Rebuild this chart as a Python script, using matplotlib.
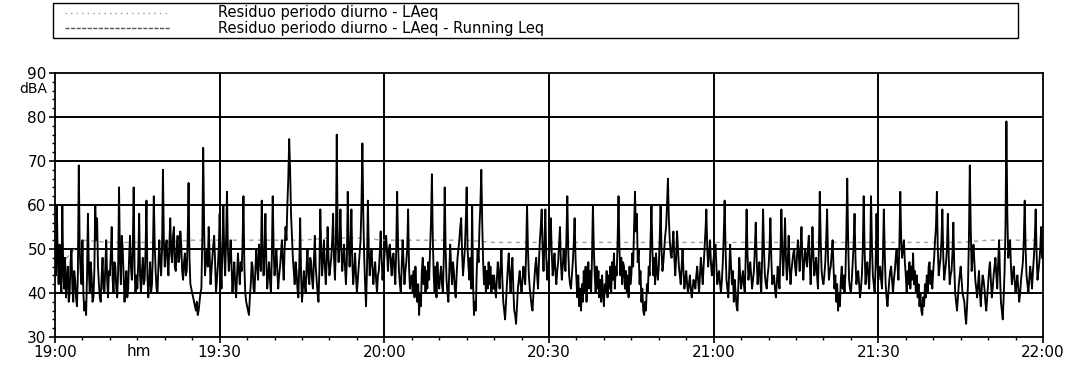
import numpy as np
import matplotlib
matplotlib.use("Agg")
import matplotlib.pyplot as plt
from matplotlib.lines import Line2D
from matplotlib.patches import Rectangle

# LAeq, one value every 10 s, one row per 5 minutes (19:00 -> 22:00)
laeq_rows = [
    [47, 44, 60, 48, 42, 51, 44, 40, 60, 45, 41, 48, 39, 43, 46, 38, 40, 47, 50, 41, 38, 45, 43, 39, 37, 44, 69, 50, 45, 42],
    [52, 40, 36, 38, 35, 44, 58, 45, 40, 47, 44, 38, 39, 45, 60, 52, 57, 46, 42, 39, 38, 44, 48, 41, 40, 46, 52, 43, 39, 45],
    [44, 49, 55, 43, 40, 47, 46, 41, 39, 45, 64, 48, 42, 53, 50, 44, 38, 42, 45, 39, 41, 48, 53, 46, 43, 50, 64, 45, 40, 44],
    [41, 47, 58, 44, 40, 45, 48, 42, 43, 50, 61, 44, 39, 43, 47, 40, 42, 49, 62, 51, 45, 41, 40, 46, 52, 47, 44, 50, 68, 52],
    [46, 50, 52, 47, 44, 51, 57, 49, 47, 53, 55, 46, 45, 50, 53, 47, 48, 54, 51, 45, 43, 47, 49, 44, 45, 52, 65, 48, 42, 41],
    [40, 39, 38, 37, 36, 38, 35, 36, 38, 40, 41, 52, 73, 55, 44, 48, 50, 46, 55, 49, 42, 45, 48, 51, 53, 47, 40, 43, 46, 50],
    [58, 47, 41, 50, 60, 49, 44, 52, 63, 50, 45, 48, 52, 46, 40, 44, 47, 42, 39, 44, 49, 45, 42, 47, 45, 51, 62, 46, 40, 38],
    [37, 36, 35, 39, 42, 47, 46, 41, 40, 45, 50, 46, 43, 51, 48, 45, 61, 50, 44, 49, 58, 47, 41, 44, 47, 43, 40, 48, 62, 50],
    [44, 47, 50, 45, 41, 44, 46, 49, 52, 47, 43, 50, 55, 52, 60, 66, 75, 68, 58, 53, 48, 45, 42, 47, 45, 41, 39, 46, 57, 44],
    [38, 41, 45, 42, 40, 46, 50, 44, 42, 48, 47, 43, 41, 47, 53, 46, 43, 40, 38, 45, 59, 50, 44, 48, 52, 46, 42, 47, 55, 48],
    [44, 46, 48, 52, 58, 48, 43, 50, 76, 52, 47, 51, 59, 50, 45, 48, 51, 46, 42, 47, 63, 52, 46, 50, 59, 47, 42, 45, 49, 44],
    [40, 43, 46, 49, 52, 60, 74, 58, 48, 42, 37, 45, 61, 50, 44, 47, 50, 46, 42, 45, 47, 43, 40, 44, 45, 49, 54, 48, 43, 46],
    [48, 51, 53, 49, 45, 50, 51, 47, 44, 48, 49, 45, 42, 50, 63, 51, 45, 42, 40, 46, 52, 47, 42, 45, 47, 50, 59, 46, 41, 43],
    [44, 40, 45, 39, 46, 41, 38, 42, 35, 40, 37, 45, 48, 42, 46, 40, 45, 41, 47, 43, 50, 56, 67, 52, 44, 40, 46, 39, 47, 43],
    [41, 44, 46, 42, 40, 48, 64, 50, 43, 40, 38, 45, 51, 46, 42, 47, 45, 41, 39, 44, 48, 50, 52, 55, 57, 49, 44, 47, 50, 56],
    [64, 50, 46, 43, 48, 41, 60, 42, 35, 38, 36, 45, 50, 47, 55, 60, 68, 56, 47, 42, 46, 40, 45, 41, 47, 42, 46, 40, 44, 41],
    [44, 41, 39, 43, 47, 44, 41, 46, 50, 43, 38, 36, 34, 38, 42, 46, 49, 44, 40, 45, 48, 41, 36, 35, 33, 37, 41, 43, 45, 42],
    [40, 43, 46, 44, 42, 49, 60, 50, 44, 41, 39, 37, 36, 40, 43, 46, 48, 44, 41, 47, 52, 55, 59, 50, 45, 51, 59, 48, 43, 46],
    [48, 52, 57, 49, 44, 46, 49, 45, 42, 45, 47, 51, 55, 47, 43, 46, 50, 47, 45, 52, 62, 50, 44, 42, 41, 44, 47, 51, 57, 48],
    [43, 39, 44, 37, 41, 36, 42, 38, 45, 40, 46, 38, 43, 47, 41, 45, 40, 48, 60, 50, 44, 40, 46, 41, 45, 39, 43, 38, 44, 40],
    [37, 42, 40, 45, 39, 44, 41, 46, 40, 47, 43, 49, 41, 46, 44, 52, 62, 50, 44, 48, 42, 47, 46, 41, 45, 40, 44, 39, 46, 42],
    [44, 49, 46, 55, 63, 54, 58, 47, 50, 42, 45, 38, 41, 36, 35, 38, 36, 42, 40, 46, 44, 52, 60, 50, 44, 48, 42, 49, 45, 43],
    [46, 52, 60, 50, 45, 47, 50, 53, 55, 60, 66, 57, 52, 49, 48, 51, 54, 48, 44, 48, 54, 50, 46, 44, 42, 46, 50, 45, 41, 43],
    [45, 42, 40, 42, 44, 41, 39, 41, 43, 42, 41, 44, 46, 43, 40, 44, 48, 45, 42, 46, 50, 54, 59, 50, 46, 49, 52, 47, 44, 46],
    [48, 50, 51, 46, 42, 44, 45, 42, 40, 43, 47, 53, 61, 50, 43, 41, 39, 45, 51, 46, 42, 45, 38, 43, 40, 37, 36, 42, 48, 44],
    [41, 43, 45, 42, 40, 48, 59, 49, 43, 45, 47, 44, 41, 43, 45, 50, 56, 48, 42, 45, 47, 43, 40, 48, 59, 50, 44, 42, 41, 44],
    [46, 50, 57, 48, 42, 43, 44, 41, 39, 42, 46, 43, 41, 49, 59, 50, 44, 49, 57, 48, 43, 47, 53, 46, 42, 45, 47, 49, 50, 46],
    [44, 48, 52, 49, 45, 50, 55, 48, 43, 47, 50, 48, 46, 50, 53, 47, 42, 48, 55, 49, 44, 46, 48, 44, 41, 50, 63, 52, 45, 43],
    [42, 44, 47, 52, 59, 48, 43, 45, 46, 49, 52, 46, 41, 44, 38, 42, 36, 40, 37, 43, 46, 41, 44, 40, 44, 53, 66, 52, 43, 41],
    [40, 43, 47, 51, 58, 48, 42, 44, 45, 42, 39, 41, 44, 50, 62, 50, 42, 45, 47, 44, 41, 48, 62, 51, 44, 42, 40, 46, 58, 47],
    [43, 45, 46, 43, 41, 48, 59, 49, 42, 39, 37, 40, 43, 45, 46, 43, 40, 43, 45, 48, 50, 46, 43, 51, 63, 52, 48, 50, 52, 47],
    [44, 40, 45, 42, 47, 41, 46, 43, 49, 42, 45, 40, 44, 39, 42, 37, 40, 36, 35, 39, 37, 42, 39, 44, 40, 46, 47, 42, 45, 41],
    [45, 48, 52, 55, 63, 50, 44, 46, 48, 52, 59, 48, 43, 45, 47, 50, 58, 48, 42, 44, 45, 49, 56, 46, 40, 38, 36, 39, 42, 44],
    [46, 43, 40, 39, 38, 35, 33, 37, 42, 52, 69, 55, 45, 48, 51, 47, 43, 41, 39, 42, 45, 40, 37, 41, 44, 43, 41, 38, 36, 39],
    [42, 45, 47, 43, 39, 41, 44, 46, 48, 44, 41, 47, 52, 44, 38, 36, 34, 39, 45, 55, 79, 58, 48, 50, 52, 46, 42, 44, 46, 43],
    [40, 42, 44, 41, 38, 40, 43, 45, 47, 52, 61, 50, 44, 42, 40, 43, 46, 44, 41, 45, 48, 52, 59, 49, 43, 45, 47, 50, 55, 48],
]
# running Leq every 5 minutes
running_leq = [45, 52, 51.5, 51.5, 51.5, 52, 52, 52, 52, 52, 52.5, 52.5, 52,
               52, 52, 52, 51.5, 51.5, 51.5, 51.5, 51.5, 51.5, 51.5, 51.5, 51.5,
               51.5, 51.5, 51.5, 51.5, 51.5, 51.5, 51.5, 51.5, 51.5, 52, 52, 52]

time_labels = ["19:00", "19:30", "20:00", "20:30", "21:00", "21:30", "22:00"]
y_labels = ["30", "40", "50", "60", "70", "80", "90"]

# minutes after 19:00 for every sample
t_laeq, laeq = [], []
for i, row in enumerate(laeq_rows):
    for k, v in enumerate(row):
        t_laeq.append(i * 5 + k * 5.0 / len(row))
        laeq.append(v)
t_run = np.arange(len(running_leq)) * 5.0

plt.rcParams['font.family'] = ['DejaVu Sans']
plt.rcParams['path.simplify'] = False   # keep every wiggle of the trace

fig = plt.figure(figsize=(10.71, 3.70), dpi=100)
ax = fig.add_axes([55 / 1071, 33 / 370, 988 / 1071, 264 / 370])

ax.plot(t_run, running_leq, color='#a0a0a0', lw=1.0, ls=(0, (3, 3)), zorder=2)
ax.plot(t_laeq, laeq, color='black', lw=1.35, zorder=3)

ax.set_xlim(0, 180)
ax.set_ylim(30, 90)
ax.set_xticks(np.arange(0, 181, 30))
ax.set_xticklabels(time_labels, fontsize=11)
ax.set_xticks(np.arange(0, 181, 5), minor=True)
ax.set_yticks(np.arange(30, 91, 10))
ax.set_yticklabels(y_labels, fontsize=11)
ax.set_yticks(np.arange(30, 91, 2), minor=True)
ax.tick_params(axis='both', which='major', direction='out', length=4, width=1.2, pad=2)
ax.tick_params(axis='both', which='minor', direction='out', length=2, width=1)

for y in range(40, 90, 10):
    ax.axhline(y, color='black', lw=1.4, zorder=1)
for x in range(30, 180, 30):
    ax.axvline(x, color='black', lw=1.4, zorder=1)
for s in ax.spines.values():
    s.set_linewidth(1.3)

fig.text(47 / 1071, 1 - 89 / 370, "dBA", ha='right', va='center', fontsize=10)
fig.text(139 / 1071, 1 - 352 / 370, "hm", ha='center', va='center', fontsize=11)

# legend box on top
fig.add_artist(Rectangle((53 / 1071, 1 - 38 / 370), 965 / 1071, 35 / 370,
                         transform=fig.transFigure, fill=False, ec='black', lw=1.0))
legend_items = [
    ("Residuo periodo diurno - LAeq", dict(color='#9a9a9a', ls=(0, (1, 3)), lw=1.0), 13),
    ("Residuo periodo diurno - LAeq - Running Leq", dict(color='#555555', ls=(0, (3, 1)), lw=1.0), 28),
]
for label, style, ypx in legend_items:
    yy = 1 - ypx / 370
    fig.add_artist(Line2D([65 / 1071, 170 / 1071], [yy, yy], transform=fig.transFigure, **style))
    fig.text(218 / 1071, yy, label, ha='left', va='center', fontsize=10.5)

fig.savefig("out.png", dpi=100)
